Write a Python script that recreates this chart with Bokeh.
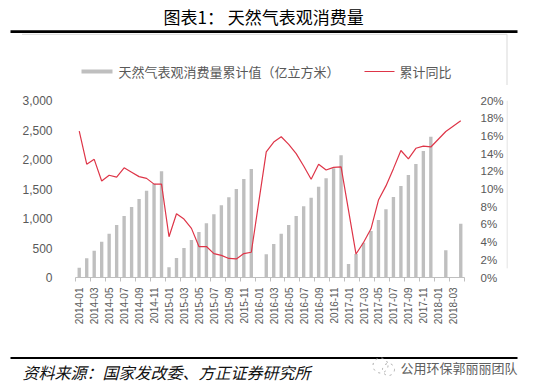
import math
from bokeh.plotting import figure
from bokeh.layouts import column, row
from bokeh.models import (Range1d, LinearAxis, FixedTicker, NumeralTickFormatter,
                          PrintfTickFormatter, ColumnDataSource)
from bokeh.core.properties import value
from bokeh.embed import file_html
from bokeh.resources import INLINE

# ---------------- data ----------------
months = [f"{y}-{m:02d}" for y in range(2014, 2019) for m in range(1, 13)][:52]

# cumulative apparent gas consumption (亿立方米); None = not published
consumption = [
    166, 325, 455, 607, 743, 890, 1042, 1195, 1330, 1471, 1590, 1800,      # 2014
    172, 330, 500, 636, 771, 918, 1071, 1223, 1359, 1500, 1670, 1839,      # 2015
    None, 393, 568, 743, 890, 1042, 1206, 1353, 1540, 1681, 1851, 2071,    # 2016
    229, 398, 590, 788, 975, 1156, 1364, 1551, 1737, 1924, 2144, 2387,     # 2017
    None, 461, None, 912,                                                  # 2018
]

# cumulative YoY growth (%)
yoy = [
    16.55, 12.8, 13.35, 10.9, 11.55, 11.35, 12.4, 11.9, 11.4, 11.2, 10.55, 10.55,   # 2014
    4.6, 7.2, 6.6, 5.55, 3.5, 3.5, 2.7, 2.5, 2.15, 2.1, 2.7, 2.85,                 # 2015
    None, 14.2, 15.3, 15.9, 15.05, 14.0, 12.6, 11.1, 12.8, 12.15, 12.45, 12.5,     # 2016
    None, 2.65, 3.95, 5.5, 8.75, 10.35, 12.3, 14.35, 13.4, 14.6, 14.85, 14.75,     # 2017
    None, 16.5, None, 17.7,                                                        # 2018
]

left_ticks = [0, 500, 1000, 1500, 2000, 2500, 3000]
right_ticks = [0, 2, 4, 6, 8, 10, 12, 14, 16, 18, 20]

bar_label = "天然气表观消费量累计值（亿立方米）"
line_label = "累计同比"
title_text = "图表1：  天然气表观消费量"
source_text = "资料来源：国家发改委、方正证券研究所"
mark_text = "公用环保郭丽丽团队"

# ---------------- styling ----------------
W = 533
TOP_H, MID_H, BOT_H = 85, 270, 34
MAIN_W = 506
AX_FONT = "Liberation Sans"
AX_COLOR = "#595959"
CJK = "Noto Sans CJK SC"
BAR_COLOR = "#BFBFBF"
LINE_COLOR = "#DE3548"
FRAME_GRAY = "#D9D9D9"


def blank(width, height):
    f = figure(width=width, height=height, output_backend="svg", toolbar_location=None,
               x_range=Range1d(0, width), y_range=Range1d(height, 0),
               x_axis_location=None, y_axis_location=None,
               min_border=0, min_border_left=0, min_border_right=0,
               min_border_top=0, min_border_bottom=0,
               outline_line_color=None, background_fill_color="white",
               border_fill_color="white")
    f.xgrid.visible = False
    f.ygrid.visible = False
    return f


def txt(f, x, y, s, size, color, align="left", style="normal"):
    f.text(x=[x], y=[y], text=[s], text_font=value(CJK), text_font_size=value(size),
           text_color=color, text_align=align, text_baseline="middle",
           text_font_style=style)


# ---------------- top strip: title, rule, legend ----------------
top = blank(W, TOP_H)
txt(top, 163, 15.5, title_text, "17px", "#000000")
top.quad(left=[10], right=[517], top=[29.7], bottom=[32.4], fill_color="black", line_color=None)
top.segment(x0=[21.5, MAIN_W + 0.5], y0=[33.8, 33.8], x1=[MAIN_W + 0.5, MAIN_W + 0.5],
            y1=[33.8, TOP_H], line_color=FRAME_GRAY, line_width=1)
# legend
top.quad(left=[81], right=[112], top=[69], bottom=[73], fill_color=BAR_COLOR, line_color=None)
txt(top, 118, 71, bar_label, "13px", AX_COLOR)
top.segment(x0=[364], y0=[71], x1=[394], y1=[71], line_color=LINE_COLOR, line_width=1.2)
txt(top, 399, 71, line_label, "13px", AX_COLOR)

# ---------------- main chart ----------------
n = len(months)
idx = list(range(n))
bar_src = ColumnDataSource(dict(
    x=idx, top=[float("nan") if v is None else v for v in consumption]))
line_x = [i for i, v in zip(idx, yoy) if v is not None]
line_y = [v for v in yoy if v is not None]

p = figure(width=MAIN_W, height=MID_H, output_backend="svg", toolbar_location=None,
           x_range=Range1d(-0.5, n - 0.5), y_range=Range1d(left_ticks[0], left_ticks[-1]),
           min_border_left=75, min_border_right=34, min_border_top=15, min_border_bottom=78,
           background_fill_color="white", border_fill_color="white", outline_line_color=None)
p.xgrid.visible = False
p.ygrid.visible = False
p.extra_y_ranges = {"pct": Range1d(right_ticks[0], right_ticks[-1])}

p.vbar(x="x", top="top", width=0.45, source=bar_src, fill_color=BAR_COLOR, line_color=None)
p.line(x=line_x, y=line_y, y_range_name="pct", line_color=LINE_COLOR, line_width=1.2)

ya = p.yaxis[0]
ya.ticker = FixedTicker(ticks=left_ticks)
ya.formatter = NumeralTickFormatter(format="0,0")
ya.axis_line_color = None
ya.major_tick_line_color = None
ya.minor_tick_line_color = None
ya.major_label_text_font = AX_FONT
ya.major_label_text_font_size = "12px"
ya.major_label_text_color = AX_COLOR
ya.major_label_standoff = 17

ra = LinearAxis(y_range_name="pct", ticker=FixedTicker(ticks=right_ticks),
                formatter=PrintfTickFormatter(format="%d%%"))
ra.axis_line_color = None
ra.major_tick_line_color = None
ra.minor_tick_line_color = None
ra.major_label_text_font = AX_FONT
ra.major_label_text_font_size = "11.5px"
ra.major_label_text_color = AX_COLOR
ra.major_label_standoff = 10
p.add_layout(ra, "right")

label_idx = idx[::2]
boundaries = [i - 0.5 for i in label_idx] + [n - 0.5]
xa = p.xaxis[0]
xa.ticker = FixedTicker(ticks=label_idx, minor_ticks=boundaries)
xa.major_label_overrides = {i: months[i] for i in label_idx}
xa.major_label_orientation = math.pi / 2
xa.major_tick_in = 0
xa.major_tick_out = 0
xa.minor_tick_in = 0
xa.minor_tick_out = 4
xa.minor_tick_line_color = BAR_COLOR
xa.axis_line_color = BAR_COLOR
xa.major_label_text_font = AX_FONT
xa.major_label_text_font_size = "10px"
xa.major_label_text_color = AX_COLOR
xa.major_label_standoff = 6

# right strip carrying the frame's right edge
strip = blank(W - MAIN_W, MID_H)
strip.segment(x0=[0.5], y0=[0], x1=[0.5], y1=[341 - TOP_H], line_color=FRAME_GRAY, line_width=1)

# ---------------- bottom strip: rule, source, watermark ----------------
bot = blank(W, BOT_H)
bot.quad(left=[10], right=[517], top=[1.5], bottom=[3.6], fill_color="black", line_color=None)
txt(bot, 22, 16.5, source_text, "16px", "#111111", style="italic")
bot.scatter(x=[380, 388], y=[10, 14], size=[15, 12], marker="circle", fill_color=None,
            line_color="#AAAAAA", line_dash="dotted", line_width=1)
txt(bot, 400, 11.5, mark_text, "13px", "#606060")

layout = column(top, row(p, strip), bot)
open("out.html", "w").write(file_html(layout, INLINE))
